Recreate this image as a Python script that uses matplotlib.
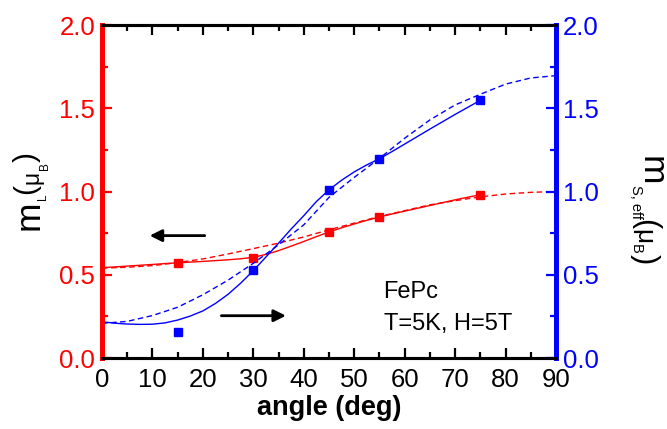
import matplotlib
matplotlib.use("Agg")
import matplotlib.pyplot as plt
from matplotlib.ticker import MultipleLocator, FormatStrFormatter
from matplotlib.transforms import IdentityTransform

plt.rcParams['font.family'] = ['Liberation Sans', 'DejaVu Sans']
plt.rcParams['mathtext.default'] = 'regular'

# measured points
angle_pts = [15, 30, 45, 55, 75]
mL_pts = [0.572, 0.602, 0.757, 0.847, 0.981]
mS_pts = [0.158, 0.529, 1.009, 1.193, 1.55]

# solid curves
solid_x = [0, 2.5, 5, 7.5, 10, 12.5, 15, 17.5, 20, 22.5, 25, 27.5, 30, 32.5, 35, 37.5, 40,
           42.5, 45, 47.5, 50, 52.5, 55, 57.5, 60, 65, 70, 75]
mL_solid = [0.543, 0.547, 0.552, 0.557, 0.562, 0.567, 0.572, 0.576, 0.580, 0.585, 0.590, 0.596,
            0.605, 0.622, 0.645, 0.672, 0.700, 0.729, 0.757, 0.782, 0.805, 0.827, 0.847,
            0.865, 0.882, 0.916, 0.950, 0.981]
mS_solid = [0.218, 0.209, 0.204, 0.202, 0.203, 0.211, 0.228, 0.252, 0.283, 0.328, 0.383, 0.450,
            0.525, 0.607, 0.690, 0.775, 0.855, 0.940, 1.010, 1.068, 1.118, 1.160, 1.197,
            1.240, 1.285, 1.375, 1.463, 1.548]

# dashed curves
dash_x = [0, 5, 10, 15, 20, 25, 30, 35, 40, 45, 50, 55, 60, 65, 70, 75, 80, 85, 90]
mL_dash = [0.54, 0.545, 0.555, 0.573, 0.595, 0.625, 0.657, 0.69, 0.727, 0.77, 0.81, 0.85,
           0.885, 0.92, 0.945, 0.968, 0.985, 0.995, 1.0]
mS_dash = [0.208, 0.22, 0.255, 0.305, 0.38, 0.468, 0.569, 0.68, 0.80, 0.965, 1.085, 1.199,
           1.32, 1.43, 1.52, 1.584, 1.645, 1.682, 1.696]

RED = '#ff0000'
BLUE = '#0000ff'
W, H = 667, 429

fig = plt.figure(figsize=(6.67, 4.29), dpi=100)
ax = fig.add_axes([0.153, 0.1655, 0.6806, 0.7762])
ax2 = ax.twinx()

ax.plot(dash_x, mL_dash, color=RED, lw=1.0, ls=(0, (4, 2.5)))
ax.plot(solid_x, mL_solid, color=RED, lw=1.0)
ax.plot(angle_pts, mL_pts, ls='none', marker='s', ms=5.5, color=RED)

ax2.plot(dash_x, mS_dash, color=BLUE, lw=1.0, ls=(0, (4, 2.5)))
ax2.plot(solid_x, mS_solid, color=BLUE, lw=1.0)
ax2.plot(angle_pts, mS_pts, ls='none', marker='s', ms=5.5, color=BLUE)

ax.set_xlim(0, 90)
ax.set_ylim(0, 2.0)
ax2.set_ylim(0, 2.0)

ax.xaxis.set_major_locator(MultipleLocator(10))
ax.xaxis.set_minor_locator(MultipleLocator(5))
for a in (ax, ax2):
    a.yaxis.set_major_locator(MultipleLocator(0.5))
    a.yaxis.set_minor_locator(MultipleLocator(0.25))
    a.yaxis.set_major_formatter(FormatStrFormatter('%.1f'))

fs = 18.5
ax.tick_params(axis='x', which='both', direction='in', top=True, bottom=True,
               colors='black', labelsize=fs, pad=7, width=1.6)
ax.tick_params(axis='x', which='major', length=7)
ax.tick_params(axis='x', which='minor', length=4)
ax.tick_params(axis='y', which='both', direction='in', colors=RED, labelsize=fs, pad=5, width=1.6)
ax.tick_params(axis='y', which='major', length=7)
ax.tick_params(axis='y', which='minor', length=4)
ax2.tick_params(axis='y', which='both', direction='in', colors=BLUE, labelsize=fs, pad=5, width=1.6)
ax2.tick_params(axis='y', which='major', length=7)
ax2.tick_params(axis='y', which='minor', length=4)

for a in (ax, ax2):
    a.spines['left'].set_color(RED)
    a.spines['left'].set_linewidth(3.5)
    a.spines['right'].set_color(BLUE)
    a.spines['right'].set_linewidth(3.5)
    a.spines['top'].set_linewidth(2.2)
    a.spines['bottom'].set_linewidth(2.2)

ax.set_xlabel('angle (deg)', fontsize=19.5, fontweight='bold', labelpad=2)

ax.annotate('', xy=(8.9, 0.735), xytext=(20.9, 0.735),
            arrowprops=dict(arrowstyle='-|>', color='black', lw=2, mutation_scale=18))
ax.annotate('', xy=(37.0, 0.254), xytext=(23.1, 0.254),
            arrowprops=dict(arrowstyle='-|>', color='black', lw=2, mutation_scale=18))

ax.text(55.8, 0.362, 'FePc', fontsize=17, color='black')
ax.text(55.8, 0.168, 'T=5K, H=5T', fontsize=17, color='black')

# ---- composed axis labels (Origin-style small subscripts) ----
fig.canvas.draw()
renderer = fig.canvas.get_renderer()


def text_width(s, size):
    t = fig.text(0, 0, s, fontsize=size)
    w = t.get_window_extent(renderer).width
    t.remove()
    return w


def rotated_label(pieces, base_x, start_y, rotation):
    # pieces: (string, fontsize, baseline shift in px; positive = raised)
    y = start_y
    for s, size, shift in pieces:
        x = base_x - shift if rotation == 90 else base_x + shift
        fig.text(x, y, s, fontsize=size, rotation=rotation, rotation_mode='anchor',
                 ha='left', va='baseline', transform=IdentityTransform(), color='black')
        w = text_width(s, size)
        y = y + w if rotation == 90 else y - w


left_pieces = [('m', 25.4, 0), ('L', 8.5, -8), ('(', 21.5, 4), ('μ', 16.5, 0),
               ('B', 8.5, -10), (')', 21.5, 4)]
rotated_label(left_pieces, 38.3, H - 229.5, 90)

right_pieces = [('m', 25.4, 0), ('S, eff', 10.5, -10), ('(', 22.0, -4.5), ('μ', 19.0, -5.5),
                ('B', 10.5, -10), (')', 22.0, -4.5)]
rotated_label(right_pieces, 641.7, H - 155.5, 270)

fig.savefig('out.png', dpi=100)
